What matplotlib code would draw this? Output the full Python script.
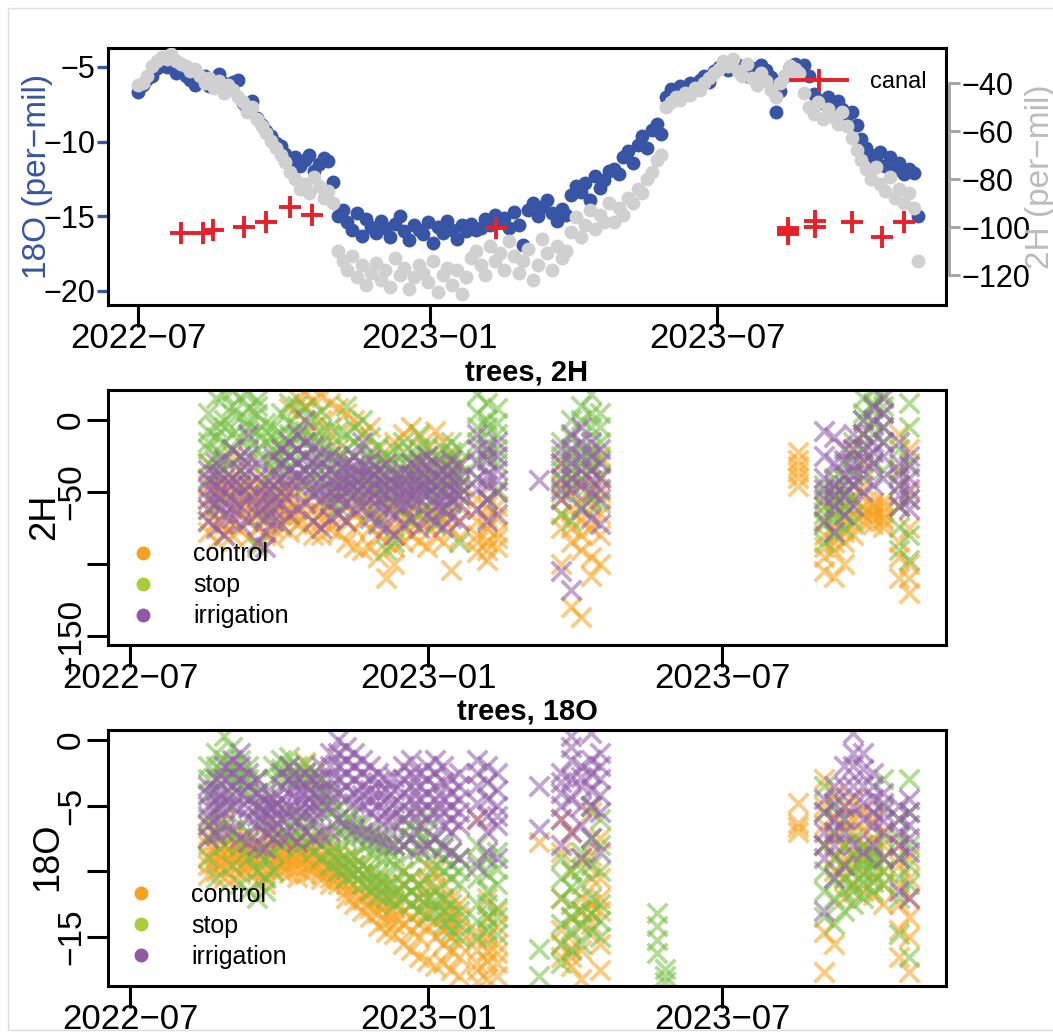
import numpy as np
import matplotlib
matplotlib.use("Agg")
import matplotlib.pyplot as plt
import matplotlib.dates as mdates
from matplotlib.lines import Line2D
from matplotlib.patches import Rectangle
from datetime import datetime

plt.rcParams['font.family'] = ['Liberation Sans', 'DejaVu Sans']

origin = mdates.date2num(datetime(2022, 7, 1))

# ---- canal (18O, per-mil); day offsets from 2022-07-01
canal_day = [27, 41, 47, 67, 81, 96, 110, 226, 410, 410, 410, 427, 427, 450, 469, 483]
canal_18o = [-16.1, -16.1, -15.9, -15.7, -15.4, -14.4, -14.9, -15.8,
             -15.8, -16.0, -16.2, -15.3, -15.7, -15.4, -16.4, -15.4]

# ---- source water series, one value every 3 days from 2022-07-01
water_18o = [
    -6.7, -6.2, -5.8, -5.6, -5.1, -4.8, -5.0, -4.7, -5.4, -5.2,
    -5.6, -5.9, -6.2, -5.8, -5.6, -6.3, -6.0, -5.5, -6.1, -6.3,
    -6.0, -5.9, -7.4, -7.8, -7.3, -8.4, -8.9, -9.3, -9.6, -10.1,
    -10.3, -10.8, -11.4, -11.0, -11.6, -11.2, -10.9, -12.0, -11.5, -11.1,
    -11.3, -12.7, -15.0, -14.6, -15.4, -15.9, -14.8, -16.3, -15.2, -15.7,
    -16.1, -15.3, -15.8, -16.4, -15.5, -15.0, -16.0, -16.6, -15.6, -15.9,
    -16.2, -15.4, -16.8, -15.7, -16.1, -15.3, -15.9, -16.5, -15.6, -16.0,
    -15.5, -15.9, -15.8, -15.2, -15.6, -14.9, -15.4, -15.1, -15.8, -14.7,
    -15.6, -16.9, -14.6, -14.1, -15.0, -14.4, -13.9, -14.8, -15.3, -14.5,
    -14.9, -13.6, -13.0, -13.4, -12.8, -13.9, -12.3, -13.1, -12.6, -12.0,
    -11.8, -12.2, -11.0, -10.6, -11.4, -10.2, -9.6, -10.4, -9.2, -8.8,
    -9.5, -7.0, -6.5, -6.9, -6.3, -6.6, -6.1, -6.4, -5.9, -5.6,
    -6.0, -5.3, -5.0, -4.8, -5.2, -4.6, -4.9, -5.3, -5.6, -5.1,
    -5.5, -4.9, -5.2, -5.7, -8.0, -6.6, -5.6, -5.0, -4.8, -5.1,
    -4.9, -5.6, -6.8, -7.2, -7.4, -7.0, -7.6, -7.3, -7.8, -8.2,
    -8.0, -8.9, -9.8, -10.4, -10.9, -11.3, -10.7, -11.6, -11.0, -11.9,
    -11.4, -12.2, -11.8, -12.1, -15.0,
]
water_2h = [
    -41, -40, -37, -33, -31, -29, -30, -28, -31, -32,
    -33, -35, -34, -37, -40, -38, -42, -39, -44, -41,
    -43, -46, -48, -52, -50, -55, -58, -61, -64, -67,
    -70, -73, -77, -80, -84, -82, -86, -79, -83, -88,
    -85, -90, -110, -114, -118, -112, -121, -116, -124, -119,
    -115, -122, -118, -125, -113, -120, -117, -126, -121, -116,
    -119, -123, -114, -127, -120, -117, -124, -118, -128, -121,
    -113, -110, -116, -120, -108, -114, -111, -118, -106, -112,
    -119, -114, -109, -122, -116, -105, -111, -118, -108, -113,
    -110, -102, -96, -104, -99, -93, -101, -95, -98, -90,
    -98, -92, -95, -88, -90, -84, -86, -80, -77, -72,
    -70, -50, -48, -46, -47, -44, -45, -42, -43, -40,
    -38, -36, -34, -31, -33, -30, -35, -37, -32, -38,
    -41, -36, -39, -43, -46, -40, -37, -33, -34, -36,
    -44, -50, -53, -48, -55, -51, -54, -57, -52, -58,
    -63, -68, -72, -76, -80, -75, -82, -85, -79, -88,
    -84, -90, -86, -92, -114,
]

# ---- trees: sampling days (offset from 2022-07-01), values per treatment
tree_days = [48, 53, 58, 63, 68, 73, 78, 83, 88, 93,
             98, 103, 108, 113, 118, 123, 128, 133, 138, 143,
             148, 153, 158, 163, 168, 173, 178, 183, 188, 193,
             198, 203, 214, 220, 226, 252, 266, 272, 278, 284,
             290, 325, 330, 412, 428, 434, 440, 446, 452, 458,
             464, 474, 480]

h2_control = [
    [-45, -62, -78, -30, -55, -70], [-50, -70, -84, -38, -60, -45], [-55, -66, -80, -42, -48, -72],
    [-40, -72, -60, -25, -52, -80], [-48, -76, -58, -35, -65, -42], [-52, -68, -82, -30, -60, -45],
    [-60, -74, -45, -86, -52, -66], [-55, -70, -80, -40, -62, -48], [-50, -65, -75, -35, -58, -82],
    [-45, -60, -74, -20, -52, -66], [-55, -68, -78, 8, -62, -48], [15, 5, -60, -72, -66, -40],
    [18, 10, -55, -75, -65, -45], [14, -5, -62, -80, -70, -50], [16, 0, -58, -70, -64, -80],
    [12, -10, -50, -76, -60, -68], [8, -20, -45, -78, -55, -65], [5, -30, -60, -85, -45, -70],
    [0, -35, -65, -88, -50, -75], [-10, -40, -70, -90, -55, -62], [-5, -50, -75, -88, -35, -62],
    [-20, -55, -80, -95, -40, -68], [-30, -60, -85, -110, -45, -72], [-15, -45, -75, -100, -60, -88],
    [-10, -40, -68, -85, -55, -75], [-5, -35, -60, -80, -50, -70], [-12, -45, -70, -84, -58, -30],
    [-20, -50, -72, -88, -62, -35], [-8, -40, -65, -80, -55, -72], [-15, -48, -68, -85, -60, -32],
    [-25, -55, -75, -104, -40, -65], [-30, -52, -70, -82, -60, -45],
    [-55, -70, -80, -92, -62, -85], [-60, -75, -84, -97, -68, -90], [-50, -68, -78, -88, -60, -82],
    [],
    [-30, -55, -75, -100, -45, -65], [-40, -62, -85, -130, -50, -75], [-45, -70, -90, -137, -60, -80],
    [-35, -60, -95, -108, -48, -75], [-25, -50, -80, -100, -40, -65],
    [], [], [-22, -32, -40, -46, -28, -36],
    [-60, -80, -95, -105, -70, -88], [-55, -75, -90, -109, -65, -85], [-50, -70, -85, -100, -60, -78],
    [-20, -45, -65, -80, -55, -72], [-10, -30, -60, -70, -45, -65], [-58, -65, -72, -62, -68, -60],
    [-60, -68, -74, -56, -64, -70],
    [-10, -35, -85, -110, -60, -95], [-20, -50, -100, -120, -75, -110],
]
h2_stop = [
    [5, -20, -40, -8, -30, -15], [15, -5, -25, -60, -35, -12], [18, 0, -15, -35, -25, -5],
    [10, -10, -30, 20, -20, 5], [16, 2, -12, -45, -25, -35], [19, 8, -5, -20, 0, -12],
    [14, 4, -8, -88, -20, 10], [-2, -15, -28, -65, -40, -8], [-5, -20, -35, -50, -28, -12],
    [5, -10, -25, -40, -18, -32], [12, -2, -18, -32, -10, -25], [10, -5, -20, -38, -12, -28],
    [8, -8, -25, -45, -15, -35], [2, -12, -30, -50, -20, -40], [6, -15, -28, -42, -8, -35],
    [-5, -18, -35, -55, -25, -45], [-8, -25, -40, -60, -32, -50], [-10, -30, -48, 10, -20, -40],
    [-15, -35, -50, -5, -25, -42], [-20, -38, -55, 0, -30, -45], [-12, -30, -45, -65, -22, -38],
    [-18, -35, -50, -70, -28, -45], [-25, -40, -58, -90, -32, -50], [-20, -38, -52, -85, -30, -45],
    [-15, -30, -48, -62, -22, -40], [-22, -38, -55, -70, -30, -45], [-10, -28, -45, -65, -20, -38],
    [-18, -32, -50, -60, -25, -42], [-25, -40, -55, -72, -32, -48], [-20, -35, -48, -62, -28, -42],
    [-15, -30, -45, -58, -22, -38], [-20, -38, -52, -85, -30, -45],
    [18, 5, -15, -40, -5, -28], [12, -5, -25, -55, 0, -18], [8, -10, -30, -48, -2, -20],
    [],
    [-15, -35, -50, -65, -25, -42], [0, -25, -45, -70, -12, -35], [10, -20, -40, -60, 0, -30],
    [18, -5, -30, -55, 5, -20], [5, -15, -38, -58, -5, -28],
    [], [], [],
    [-45, -60, -72, -85, -52, -65], [-40, -55, -68, -80, -48, -62], [-30, -50, -65, -75, -40, -58],
    [-15, -35, -55, -70, -25, -45], [15, 0, -20, -40, 5, -10], [20, 8, -10, -30, 12, -2],
    [18, 5, -15, -35, 10, -5],
    [-20, -45, -74, -90, -35, -60], [12, -30, -80, -97, -5, -55],
]
h2_irrigation = [
    [-35, -55, -70, -48, -42, -62], [-30, -58, -75, -45, -38, -52], [-28, -50, -65, -80, -40, -58],
    [-40, -55, -68, -20, -45, -62], [-25, -45, -60, -72, -35, -52], [-10, -35, -55, -70, -25, -45],
    [-30, -50, -65, -85, -40, -58], [-45, -60, -78, -88, -52, -68], [-38, -55, -70, -25, -45, -62],
    [-20, -40, -58, -72, -30, -50], [-15, -35, -50, -65, -25, -42], [-10, -30, -45, -62, -20, -38],
    [0, -25, -42, -58, -15, -35], [-18, -35, -52, -70, -28, -45], [-22, -40, -55, -75, -30, -48],
    [-25, -42, -58, -68, -35, -50], [-28, -45, -55, -65, -38, -50], [-30, -42, -58, -70, -36, -50],
    [-25, -40, -52, -62, -32, -46], [-32, -45, -60, -15, -38, -52], [-28, -40, -55, -68, -35, -48],
    [-35, -48, -60, -72, -42, -55], [-30, -45, -62, -75, -38, -52], [-38, -50, -65, -80, -44, -58],
    [-35, -48, -60, -72, -42, -55], [-30, -45, -58, -68, -38, -52], [-28, -42, -55, -75, -35, -48],
    [-25, -40, -52, -66, -32, -46], [-30, -45, -60, -70, -38, -52], [-35, -50, -62, -74, -42, -56],
    [-28, -42, -55, -68, -35, -48], [-32, -46, -58, -70, -40, -52],
    [-10, -30, -48, -62, -20, -40], [-20, -38, -55, -70, -28, -45], [-15, -35, -50, -65, -25, -42],
    [-42],
    [-20, -40, -55, -105, -30, -48], [-10, -30, -48, -118, -20, -40], [-5, -25, -45, -62, -15, -35],
    [-15, -35, -50, -68, -25, -42], [-20, -40, -55, -72, -30, -48],
    [], [], [],
    [-8, -40, -55, -70, -25, -48], [-12, -45, -60, -78, -30, -52], [-20, -38, -52, -66, -28, -45],
    [-10, -30, -45, -60, -20, -38], [0, -20, -35, -50, -10, -28], [10, -15, -30, -45, 0, -22],
    [15, -5, -25, -40, 5, -15],
    [-30, -45, -60, -15, -38, -52], [-25, -40, -55, -62, -32, -48],
]

o18_control = [
    [-8.0, -9.5, -10.3, -6.5, -8.8, -7.2], [-8.5, -10.0, -9.0, -7.0, -9.4, -8.0], [-8.0, -9.8, -10.5, -6.0, -8.6, -9.2],
    [-7.5, -9.0, -10.6, -8.5, -8.0, -9.6], [-8.2, -9.6, -10.2, -7.8, -9.0, -8.6], [-8.8, -10.0, -7.5, -9.2, -8.2, -9.6],
    [-7.8, -9.4, -10.8, -8.6, -8.2, -10.0], [-8.5, -9.8, -11.0, -7.2, -9.0, -10.4], [-7.5, -9.0, -10.0, -6.5, -8.2, -9.6],
    [-7.8, -9.2, -10.0, -8.5, -8.8, -9.6], [-8.0, -9.5, -10.1, -7.6, -8.6, -9.0], [-8.5, -9.8, -7.8, -9.0, -9.2, -10.4],
    [-1.7, -8.2, -9.6, -8.8, -9.0, -10.2], [-2.5, -8.0, -9.2, -10.0, -8.6, -9.6], [-7.6, -8.8, -9.8, -10.2, -9.2, -10.6],
    [-8.2, -9.5, -10.5, -11.0, -8.8, -10.0], [-8.5, -10.0, -11.0, -9.2, -9.6, -10.5], [-9.0, -10.5, -11.5, -12.0, -9.8, -11.0],
    [-8.8, -10.2, -11.8, -12.5, -9.5, -11.0], [-9.5, -11.0, -12.2, -13.0, -10.2, -11.8], [-10.0, -11.5, -12.8, -13.5, -10.8, -12.2],
    [-10.5, -12.0, -13.2, -14.2, -11.2, -12.6], [-11.0, -12.5, -13.8, -14.6, -11.8, -13.2], [-11.5, -12.8, -14.0, -14.8, -12.2, -13.5],
    [-10.0, -12.0, -14.0, -15.5, -11.0, -13.0], [-10.5, -12.5, -14.5, -16.0, -11.5, -13.5], [-11.0, -13.0, -15.0, -16.5, -12.0, -14.0],
    [-9.6, -12.0, -14.2, -16.8, -11.0, -13.2], [-10.0, -12.5, -15.0, -17.2, -11.2, -13.8], [-11.0, -13.5, -15.5, -17.0, -12.2, -14.5],
    [-12.0, -14.0, -16.0, -17.5, -13.0, -15.0], [-12.5, -14.5, -16.5, -18.0, -13.5, -15.5],
    [-6.0, -14.6, -16.0, -17.5, -18.4, -15.2, -17.0], [-12.0, -15.0, -16.8, -18.2, -13.5, -16.0],
    [-13.0, -15.5, -17.0, -18.0, -14.2, -16.2],
    [-7.8],
    [-6.0, -8.5, -14.5, -16.5, -12.0, -15.5], [-7.0, -13.5, -15.8, -17.2, -10.0, -16.5], [-9.0, -12.0, -14.0, -18.2, -13.0, -16.0],
    [-5.5, -8.8, -12.5, -14.0, -10.5, -13.2], [-7.5, -10.5, -13.0, -17.5, -12.0, -15.5],
    [], [], [-4.8, -6.3, -6.6, -7.0],
    [-3.0, -6.5, -14.6, -17.7, -5.0, -8.0], [-4.0, -7.5, -10.0, -15.5, -6.0, -9.0], [-5.0, -8.0, -10.5, -12.0, -6.5, -9.2],
    [-4.5, -7.0, -9.5, -11.0, -6.0, -8.5], [-5.5, -8.0, -10.0, -11.5, -7.0, -9.0], [-6.0, -8.5, -10.5, -11.8, -7.5, -9.5],
    [-7.0, -9.0, -11.0, -12.5, -8.0, -10.0],
    [-8.0, -11.0, -14.5, -16.5, -9.5, -12.5], [-9.0, -12.0, -15.0, -17.7, -10.5, -13.5],
]
o18_stop = [
    [-2.0, -4.0, -6.0, -9.0, -3.0, -7.5], [-1.0, -3.0, -5.5, -10.5, -2.0, -7.0], [0.3, -2.5, -4.5, -8.0, -1.5, -6.5],
    [-0.5, -2.0, -5.0, -9.5, -3.0, -7.0], [-1.5, -3.5, -6.5, -11.0, -2.5, -8.0], [-2.0, -4.0, -7.0, -11.5, -3.0, -9.0],
    [-3.0, -5.0, -8.5, -12.0, -4.0, -10.0], [-4.5, -6.5, -9.0, -11.5, -5.5, -10.5], [-2.0, -4.5, -7.5, -10.0, -3.0, -8.5],
    [-1.5, -3.0, -6.0, -8.0, -2.2, -7.0], [-1.3, -2.8, -5.5, -7.5, -2.0, -6.5], [-2.0, -3.3, -6.0, -8.2, -2.8, -7.0],
    [-1.8, -3.0, -5.8, -7.8, -2.4, -6.8], [-2.5, -4.0, -6.5, -8.5, -3.2, -7.5], [-3.0, -5.0, -7.0, -9.0, -4.0, -8.0],
    [-3.5, -5.5, -7.5, -9.5, -4.5, -8.5], [-5.0, -7.0, -8.5, -10.0, -6.0, -9.2], [-6.0, -7.5, -9.0, -10.5, -6.8, -9.8],
    [-5.5, -7.2, -8.8, -10.2, -6.4, -9.5], [-6.5, -8.0, -9.5, -11.0, -7.2, -10.2], [-7.0, -8.5, -10.0, -11.5, -7.8, -10.8],
    [-7.2, -8.8, -10.2, -11.8, -8.0, -11.0], [-7.5, -9.0, -10.5, -12.0, -8.2, -11.2], [-8.0, -9.5, -11.0, -12.5, -8.8, -11.8],
    [-6.0, -8.0, -10.0, -12.0, -7.0, -11.0], [-6.5, -8.5, -10.5, -12.5, -7.5, -11.5], [-7.0, -9.0, -11.0, -13.0, -8.0, -12.0],
    [-5.8, -8.0, -10.5, -13.4, -7.0, -12.0], [-7.5, -9.5, -11.5, -13.0, -8.5, -12.2], [-8.0, -10.0, -12.0, -14.0, -9.0, -13.0],
    [-8.5, -10.5, -12.5, -14.5, -9.5, -13.5], [-9.0, -11.0, -13.0, -15.0, -10.0, -14.0],
    [-8.0, -10.5, -12.5, -15.0, -9.2, -13.8], [-9.0, -11.5, -13.5, -14.5, -10.2, -12.5],
    [-8.5, -11.0, -12.8, -14.8, -9.8, -13.5],
    [-15.9, -18.0],
    [-9.0, -12.0, -14.0, -17.0, -10.5, -15.5], [-10.0, -12.5, -14.5, -16.0, -11.2, -13.5], [-8.5, -11.0, -13.0, -15.5, -9.8, -14.2],
    [-5.0, -9.5, -12.0, -14.5, -7.5, -13.2], [-6.0, -10.0, -12.5, -15.0, -8.0, -13.8],
    [-13.2, -14.2, -15.2, -16.2], [-17.4, -18.0, -18.4], [],
    [-3.5, -8.0, -11.5, -13.5, -5.5, -10.0], [-5.0, -9.0, -12.0, -14.0, -7.0, -10.5], [-6.0, -9.5, -11.5, -13.0, -8.0, -10.5],
    [-7.5, -10.0, -11.5, -12.5, -9.0, -11.0], [-8.0, -9.5, -11.0, -12.0, -8.8, -10.2], [-8.5, -10.0, -11.5, -9.0, -9.2, -10.8],
    [-3.0, -7.5, -10.0, -11.0, -5.0, -9.0],
    [-6.0, -9.0, -12.0, -14.8, -7.5, -10.5], [-3.0, -8.0, -11.0, -16.5, -5.5, -9.5],
]
o18_irrigation = [
    [-3.5, -5.0, -6.5, -7.5, -4.2, -5.8], [-3.0, -4.5, -6.0, -7.2, -3.8, -5.2], [-2.0, -4.0, -5.5, -7.0, -3.0, -4.8],
    [-1.5, -3.5, -5.0, -6.8, -2.5, -4.2], [-1.0, -3.0, -5.2, -7.5, -2.0, -4.0], [-2.5, -4.5, -6.0, -7.8, -3.5, -5.2],
    [-3.0, -5.0, -6.5, -8.0, -4.0, -5.8], [-4.0, -5.5, -7.0, -8.2, -4.8, -6.2], [-4.5, -6.0, -7.5, -5.0, -5.2, -6.8],
    [-2.5, -4.5, -6.0, -7.5, -3.5, -5.2], [-2.0, -4.0, -5.8, -7.2, -3.0, -5.0], [-3.0, -4.5, -6.2, -7.8, -3.8, -5.4],
    [-2.5, -4.2, -5.5, -7.0, -3.4, -4.8], [-3.0, -4.8, -6.0, -7.5, -4.0, -5.4], [-2.0, -3.8, -5.5, -7.2, -3.0, -4.6],
    [-1.0, -3.0, -5.0, -7.0, -2.0, -4.0], [0.0, -2.0, -4.0, -6.0, -1.0, -3.0], [-0.5, -2.5, -4.5, -6.5, -1.5, -3.5],
    [-1.0, -3.0, -4.8, -6.8, -2.0, -4.0], [-1.5, -3.5, -5.0, -7.0, -2.5, -4.2], [-2.0, -3.8, -5.5, -7.2, -3.0, -4.6],
    [-2.5, -4.2, -6.0, -7.5, -3.2, -5.0], [-3.0, -4.5, -6.2, -7.8, -3.8, -5.4], [-2.8, -4.8, -6.5, -8.0, -3.8, -5.6],
    [-2.0, -4.0, -6.0, -8.0, -3.0, -5.0], [-1.5, -3.5, -5.5, -7.5, -2.5, -4.5], [-2.5, -4.5, -6.5, -8.3, -3.5, -5.5],
    [-2.0, -4.0, -6.0, -8.0, -3.0, -5.0], [-1.5, -3.5, -5.5, -7.5, -2.5, -4.5], [-2.0, -4.5, -6.5, -8.2, -3.2, -5.5],
    [-3.0, -5.0, -7.0, -8.5, -4.0, -6.0], [-2.5, -4.5, -6.5, -9.0, -3.5, -5.5],
    [-1.5, -3.5, -6.0, -9.6, -2.5, -4.8], [-2.0, -4.5, -7.0, -8.5, -3.2, -5.8],
    [-2.5, -5.0, -6.5, -9.0, -3.8, -5.8],
    [-3.5, -6.8],
    [-2.5, -4.0, -6.0, -8.0, -3.2, -5.0], [0.3, -1.5, -4.5, -7.0, -0.5, -3.0], [-2.0, -3.5, -6.5, -9.0, -2.8, -5.0],
    [0.5, -2.5, -5.0, -7.5, -1.5, -3.8], [-1.0, -3.0, -5.5, -8.5, -2.0, -4.2],
    [], [], [],
    [-4.5, -7.0, -9.0, -13.0, -5.5, -8.0], [-3.5, -6.0, -8.0, -10.5, -4.8, -7.0], [-2.0, -5.0, -7.0, -9.5, -3.5, -6.0],
    [0.5, -2.0, -5.0, -8.0, -1.0, -3.5], [-1.0, -3.5, -6.0, -8.5, -2.2, -4.8], [-2.5, -4.5, -6.5, -8.0, -3.5, -5.5],
    [-4.0, -5.5, -7.0, -9.0, -4.8, -6.2],
    [-5.0, -7.0, -9.0, -11.5, -6.0, -8.0], [-4.5, -6.5, -8.5, -12.0, -5.5, -7.5],
]

treatments = ["control", "stop", "irrigation"]
marker_colors = {"control": "#F7A21E", "stop": "#74BF42", "irrigation": "#8F59A8"}
legend_colors = {"control": "#F7A21E", "stop": "#A8CD3A", "irrigation": "#8F59A8"}

BLUE = "#3754A5"
GRAY = "#D0D0D0"
AXGRAY = "#A8A8A8"
RED = "#E8202A"
MINUS = "\u2212"

W, H = 1053, 1033
fig = plt.figure(figsize=(W / 100, H / 100), dpi=100)


def box(x0, y0, x1, y1):
    return [x0 / W, 1 - y1 / H, (x1 - x0) / W, (y1 - y0) / H]


tick_dates = mdates.date2num([datetime(2022, 7, 1), datetime(2023, 1, 1), datetime(2023, 7, 1)])
tick_names = ["2022" + MINUS + "07", "2023" + MINUS + "01", "2023" + MINUS + "07"]


def style_box(ax):
    for s in ax.spines.values():
        s.set_linewidth(2.2)
        s.set_color("black")
    ax.set_xticks(tick_dates)
    ax.set_xticklabels(tick_names)
    ax.tick_params(axis="x", length=15.5, width=2.2, labelsize=25, pad=-3)


# ---------------- panel 1: source water ----------------
ax1 = fig.add_axes(box(108, 48, 946, 305))
ax2 = ax1.twinx()
ax3 = ax1.twinx()

wx = origin + 3 * np.arange(len(water_18o))
ax1.scatter(wx, water_18o, s=100, color=BLUE, linewidths=0, zorder=2)
wx2 = origin + 3 * np.arange(len(water_2h))
ax2.scatter(wx2, water_2h, s=100, color=GRAY, linewidths=0, zorder=2)
ax3.plot(origin + np.array(canal_day), canal_18o, ls="none", marker="+",
         ms=16.5, mew=2.8, color=RED)

ax1.set_xlim(origin - 18.9, origin + 509.4)
ax1.set_ylim(-20.94, -3.73)
ax2.set_ylim(-132.5, -25.4)
ax3.set_ylim(-20.94, -3.73)
ax3.axis("off")

style_box(ax1)
ax1.set_yticks([-5, -10, -15, -20])
ax1.set_yticklabels([MINUS + "5", MINUS + "10", MINUS + "15", MINUS + "20"])
ax1.tick_params(axis="y", length=8, width=2.4, color=BLUE, labelcolor="black",
                labelsize=22, pad=1)

for side in ["left", "top", "bottom"]:
    ax2.spines[side].set_visible(False)
ax2.spines["right"].set_color(AXGRAY)
ax2.spines["right"].set_linewidth(2.2)
ax2.spines["right"].set_bounds(-120, -40)
ax2.spines["right"].set_position(("outward", 2))
ax2.set_yticks([-40, -60, -80, -100, -120])
ax2.set_yticklabels([MINUS + "40", MINUS + "60", MINUS + "80", MINUS + "100", MINUS + "120"])
ax2.tick_params(axis="y", length=8, width=2.2, color=AXGRAY, labelcolor="black",
                labelsize=22, pad=1)

canal_handle = Line2D([0], [0], color=RED, marker="+", ms=16.5, mew=2.8, lw=2.8)
ax3.legend([canal_handle], ["canal"], loc="center right",
           bbox_to_anchor=((927 - 108) / 838, 1 - (82 - 48) / 257),
           frameon=False, fontsize=17, handlelength=2.35, handletextpad=1.0,
           borderpad=0, borderaxespad=0)

fig.text(38 / W, 1 - 176 / H, "18O (per" + MINUS + "mil)", color=BLUE, fontsize=24,
         rotation=90, ha="center", va="center")
fig.text(1040 / W, 1 - 177 / H, "2H (per" + MINUS + "mil)", color="#BBBBBB", fontsize=24,
         rotation=90, ha="center", va="center")


# ---------------- panels 2 and 3: trees ----------------
def tree_panel(ax, data, ylim, yticks, ylabels, leg_top, leg_left):
    for name in treatments:
        vals = data[name]
        xs = [origin + d for d, vs in zip(tree_days, vals) for _ in vs]
        ys = [v for vs in vals for v in vs]
        ax.scatter(xs, ys, marker="x", s=200, linewidths=2.7,
                   color=marker_colors[name], alpha=0.55)
    ax.set_xlim(origin - 13.6, origin + 503.1)
    ax.set_ylim(*ylim)
    style_box(ax)
    ax.set_yticks(yticks)
    ax.set_yticklabels(ylabels)
    ax.tick_params(axis="y", length=15, width=2.2, labelsize=24, pad=0, labelrotation=90)
    for lab in ax.get_yticklabels():
        lab.set_va("center")
    handles = [Line2D([0], [0], marker="o", ls="none", ms=9, color=legend_colors[n])
               for n in treatments]
    ax.legend(handles, treatments, loc="upper left", bbox_to_anchor=(leg_left, leg_top),
              frameon=False, fontsize=18, handlelength=1.0, handletextpad=1.5,
              labelspacing=0.28, borderpad=0, borderaxespad=0)


ax4 = fig.add_axes(box(108, 390, 946, 645))
tree_panel(ax4, {"control": h2_control, "stop": h2_stop, "irrigation": h2_irrigation},
           (-156.25, 20.8), [0, -50, -100, -150], ["0", MINUS + "50", "", MINUS + "150"],
           0.402, 0.0268)
fig.text(527 / W, 1 - 373 / H, "trees, 2H", fontsize=21, fontweight="bold",
         ha="center", va="center")
fig.text(45 / W, 1 - 517 / H, "2H", fontsize=26, rotation=90, ha="center", va="center")

ax5 = fig.add_axes(box(108, 730, 946, 986))
tree_panel(ax5, {"control": o18_control, "stop": o18_stop, "irrigation": o18_irrigation},
           (-18.73, 0.76), [0, -5, -10, -15], ["0", MINUS + "5", "", MINUS + "15"],
           0.404, 0.0245)
fig.text(527 / W, 1 - 712 / H, "trees, 18O", fontsize=21, fontweight="bold",
         ha="center", va="center")
fig.text(48 / W, 1 - 857 / H, "18O", fontsize=26, rotation=90, ha="center", va="center")

# faint frame around the whole picture
fig.patches.append(Rectangle((8 / W, 1 - 1030 / H), 1.2, 1030 / H - 8 / H,
                             transform=fig.transFigure, fill=False,
                             edgecolor="#DDDDDD", lw=1))

fig.savefig("out.png", dpi=100)
